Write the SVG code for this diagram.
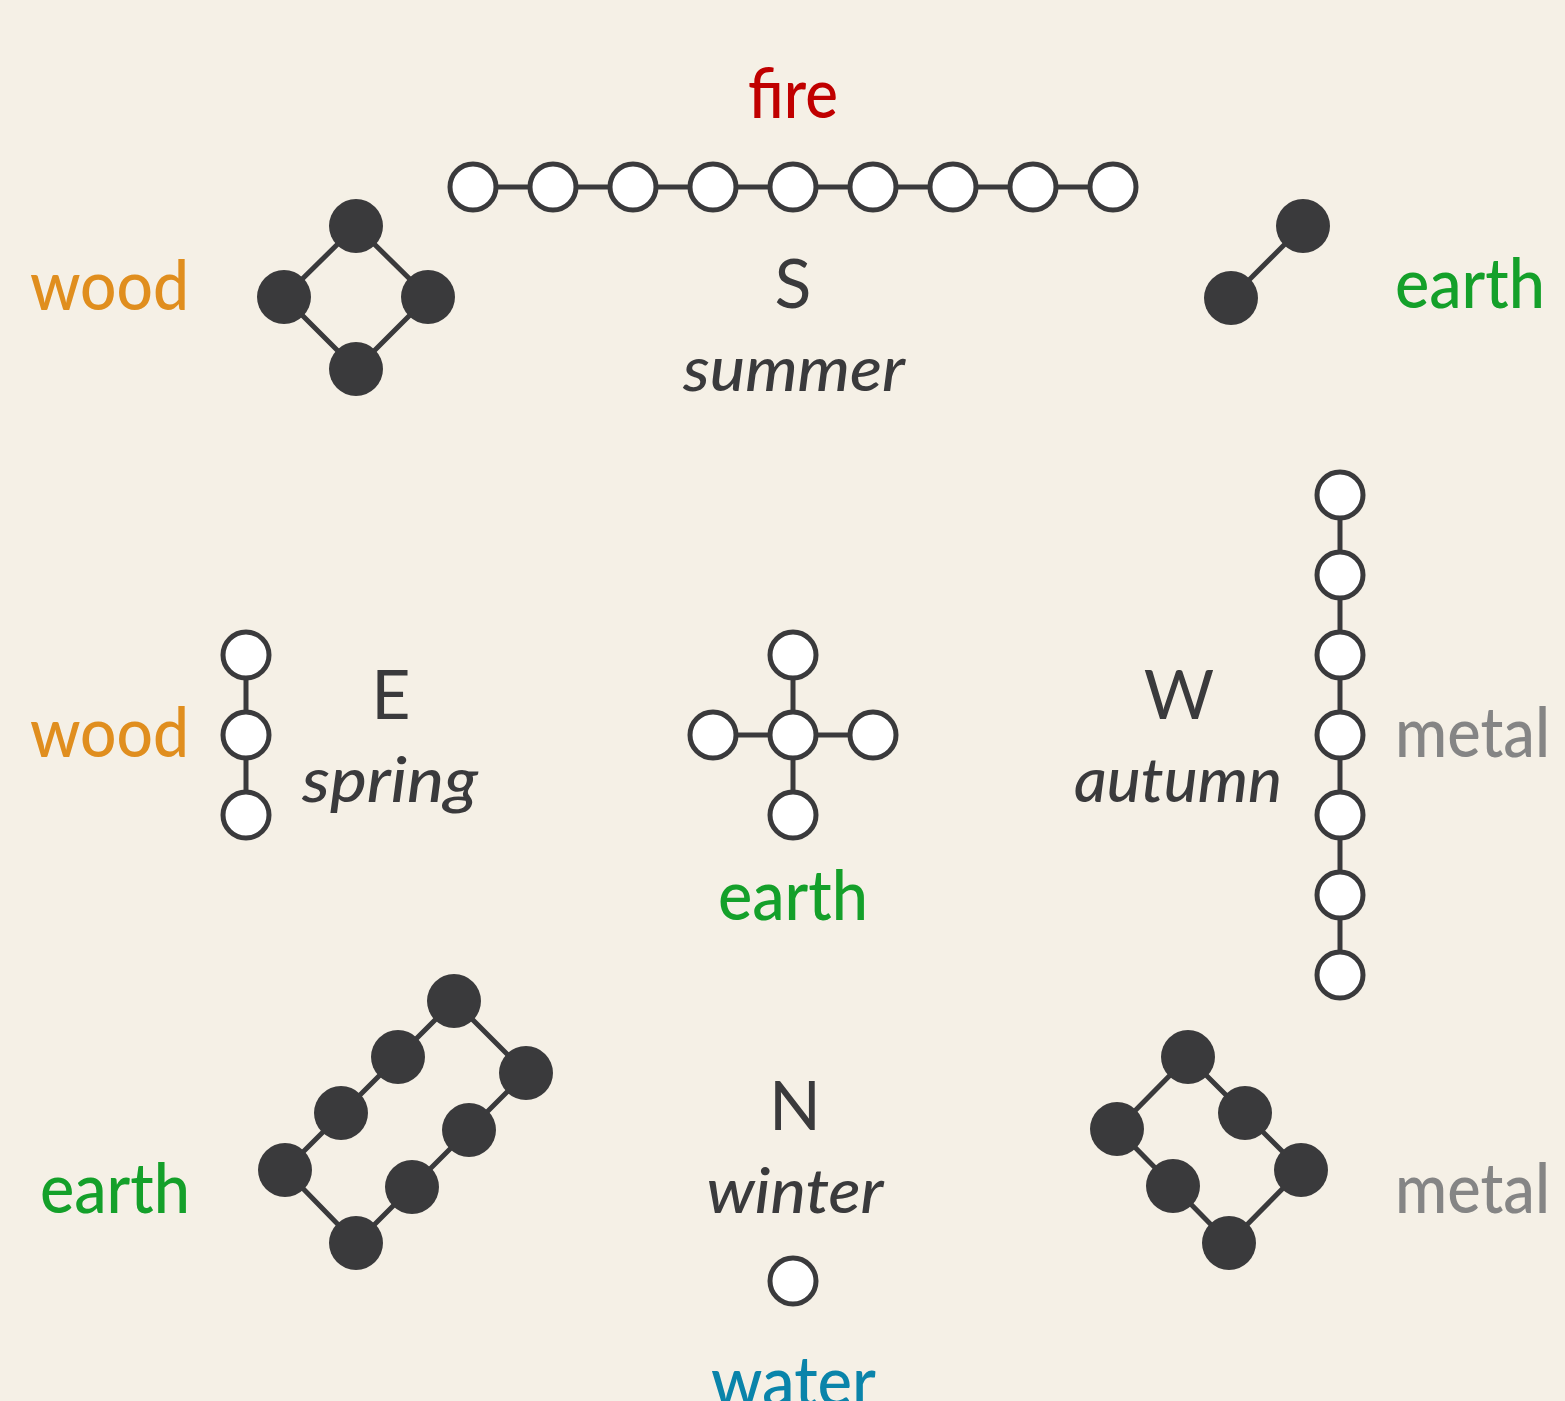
<svg xmlns="http://www.w3.org/2000/svg" width="1565" height="1401" viewBox="0 0 1565 1401">
<style>
.bg{fill:#f5f0e6}
.w{fill:#ffffff;stroke:#3a3a3c;stroke-width:5}
.b{fill:#3a3a3c}
.ln{stroke:#3a3a3c;stroke-width:5;fill:none}
.el{font-family:Lato,"Noto Sans","Liberation Sans",sans-serif;font-size:70px;font-weight:500}
.dir{font-family:Lato,"Noto Sans","Liberation Sans",sans-serif;font-size:68px;fill:#3a3a3c;text-anchor:middle}
.sea{font-family:Lato,"Noto Sans","Liberation Sans",sans-serif;font-size:62px;font-style:italic;fill:#3a3a3c;text-anchor:middle;font-weight:500}
.wood{fill:#e08e1e}.earth{fill:#14a02a}.metal{fill:#858585}.fire{fill:#c00000}.water{fill:#0a84aa}
</style>
<rect class="bg" x="0" y="0" width="1565" height="1401"/>
<g id="connectors" class="ln">
<path d="M473 187H1113"/>
<path d="M356 226L428 297L356 369L284 297Z"/>
<path d="M1303 226L1231 298"/>
<path d="M246 655V815"/>
<path d="M793 655V815M713 735H873"/>
<path d="M1340 495V975"/>
<path d="M454 1001L285 1170L356 1243L526 1073Z"/>
<path d="M1188 1057L1117 1129L1229 1243L1301 1170Z"/>
</g>
<g id="fire-9">
<circle class="w" cx="473" cy="187" r="23"/><circle class="w" cx="553" cy="187" r="23"/><circle class="w" cx="633" cy="187" r="23"/><circle class="w" cx="713" cy="187" r="23"/><circle class="w" cx="793" cy="187" r="23"/><circle class="w" cx="873" cy="187" r="23"/><circle class="w" cx="953" cy="187" r="23"/><circle class="w" cx="1033" cy="187" r="23"/><circle class="w" cx="1113" cy="187" r="23"/>
</g>
<g id="wood-4">
<circle class="b" cx="356" cy="226" r="27"/><circle class="b" cx="284" cy="297" r="27"/><circle class="b" cx="428" cy="297" r="27"/><circle class="b" cx="356" cy="369" r="27"/>
</g>
<g id="earth-2">
<circle class="b" cx="1303" cy="226" r="27"/><circle class="b" cx="1231" cy="298" r="27"/>
</g>
<g id="wood-3">
<circle class="w" cx="246" cy="655" r="23"/><circle class="w" cx="246" cy="735" r="23"/><circle class="w" cx="246" cy="815" r="23"/>
</g>
<g id="earth-5">
<circle class="w" cx="793" cy="655" r="23"/><circle class="w" cx="713" cy="735" r="23"/><circle class="w" cx="793" cy="735" r="23"/><circle class="w" cx="873" cy="735" r="23"/><circle class="w" cx="793" cy="815" r="23"/>
</g>
<g id="metal-7">
<circle class="w" cx="1340" cy="495" r="23"/><circle class="w" cx="1340" cy="575" r="23"/><circle class="w" cx="1340" cy="655" r="23"/><circle class="w" cx="1340" cy="735" r="23"/><circle class="w" cx="1340" cy="815" r="23"/><circle class="w" cx="1340" cy="895" r="23"/><circle class="w" cx="1340" cy="975" r="23"/>
</g>
<g id="earth-8">
<circle class="b" cx="454" cy="1001" r="27"/><circle class="b" cx="398" cy="1057" r="27"/><circle class="b" cx="341" cy="1113" r="27"/><circle class="b" cx="285" cy="1170" r="27"/><circle class="b" cx="356" cy="1243" r="27"/><circle class="b" cx="412" cy="1187" r="27"/><circle class="b" cx="469" cy="1130" r="27"/><circle class="b" cx="526" cy="1073" r="27"/>
</g>
<g id="metal-6">
<circle class="b" cx="1188" cy="1057" r="27"/><circle class="b" cx="1117" cy="1129" r="27"/><circle class="b" cx="1173" cy="1186" r="27"/><circle class="b" cx="1229" cy="1243" r="27"/><circle class="b" cx="1245" cy="1113" r="27"/><circle class="b" cx="1301" cy="1170" r="27"/>
</g>
<g id="water-1">
<circle class="w" cx="793" cy="1281" r="23"/>
</g>
<g id="labels">
<text class="el fire" x="748" y="118" textLength="90" lengthAdjust="spacingAndGlyphs">fire</text>
<text class="dir" x="793" y="308">S</text>
<text class="sea" x="794" y="391" textLength="222" lengthAdjust="spacingAndGlyphs">summer</text>
<text class="el wood" x="30" y="310" textLength="159" lengthAdjust="spacingAndGlyphs">wood</text>
<text class="el earth" x="1395" y="308" textLength="150" lengthAdjust="spacingAndGlyphs">earth</text>
<text class="el wood" x="30" y="757" textLength="159" lengthAdjust="spacingAndGlyphs">wood</text>
<text class="dir" x="391" y="719">E</text>
<text class="sea" x="390" y="802" textLength="176" lengthAdjust="spacingAndGlyphs">spring</text>
<text class="el earth" x="718" y="920" textLength="150" lengthAdjust="spacingAndGlyphs">earth</text>
<text class="dir" x="1179" y="719">W</text>
<text class="sea" x="1178" y="802" textLength="208" lengthAdjust="spacingAndGlyphs">autumn</text>
<text class="el metal" x="1395" y="757" textLength="155" lengthAdjust="spacingAndGlyphs">metal</text>
<text class="el earth" x="40" y="1213" textLength="150" lengthAdjust="spacingAndGlyphs">earth</text>
<text class="dir" x="795" y="1130">N</text>
<text class="sea" x="795" y="1213" textLength="177" lengthAdjust="spacingAndGlyphs">winter</text>
<text class="el metal" x="1395" y="1213" textLength="155" lengthAdjust="spacingAndGlyphs">metal</text>
<text class="el water" x="711" y="1406" textLength="165" lengthAdjust="spacingAndGlyphs">water</text>
</g>
</svg>
